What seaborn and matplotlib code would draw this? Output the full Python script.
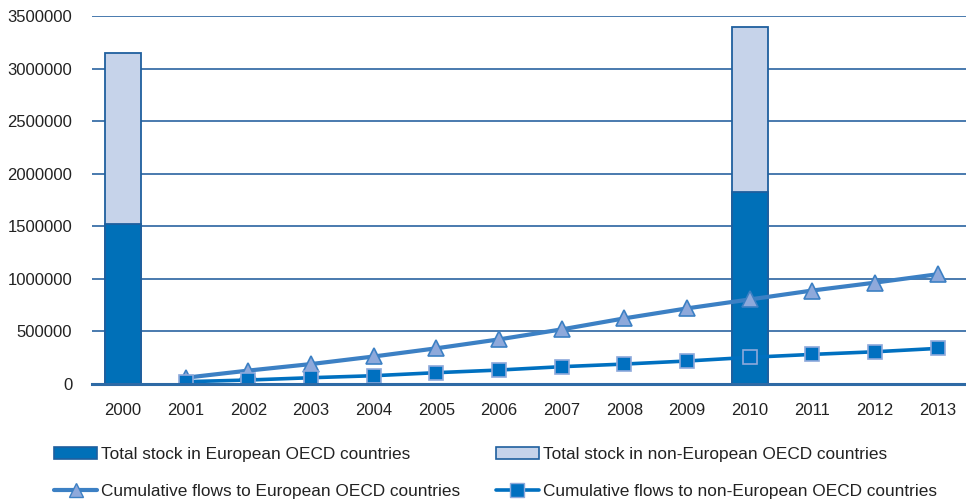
import numpy as np
import pandas as pd
import matplotlib
matplotlib.use("Agg")
import matplotlib.pyplot as plt
from matplotlib.patches import Patch
from matplotlib.lines import Line2D
import seaborn as sns

# --- data -------------------------------------------------------------
years = [str(y) for y in range(2000, 2014)]

stock_years = ["2000", "2010"]
stock_european = [1522000, 1826000]
stock_non_european = [1626000, 1569000]

flow_years = [str(y) for y in range(2001, 2014)]
flows_european = [60000, 128000, 190000, 262000, 340000, 425000, 520000,
                  625000, 720000, 805000, 890000, 965000, 1045000]
flows_non_european = [22000, 38000, 60000, 79000, 108000, 133000, 165000,
                      190000, 219000, 254000, 282000, 307000, 339000]

y_ticks = [0, 500000, 1000000, 1500000, 2000000, 2500000, 3000000, 3500000]

labels = ["Total stock in European OECD countries",
          "Total stock in non-European OECD countries",
          "Cumulative flows to European OECD countries",
          "Cumulative flows to non-European OECD countries"]

# --- styling ----------------------------------------------------------
dark_blue = "#0070B8"
light_blue = "#C6D3EA"
bar_edge = "#1F5F9E"
tri_line = "#3C80C4"
tri_fill = "#8EA9DB"
sq_line = "#0070C0"
grid_col = "#3A70A8"

sns.set_theme(style="white")
plt.rcParams["font.family"] = ["Liberation Sans", "DejaVu Sans"]

stock = pd.DataFrame({
    "year": stock_years,
    "european": stock_european,
    "total": np.array(stock_european) + np.array(stock_non_european),
})
flows = pd.DataFrame({
    "year": flow_years,
    "european": flows_european,
    "non_european": flows_non_european,
})

fig = plt.figure(figsize=(9.66, 5.01), dpi=100)
ax = fig.add_axes([0.095, 0.2335, 0.905, 0.734])

# stacked bars: full total in light blue, European share on top of it
sns.barplot(data=stock, x="year", y="total", order=years, color=light_blue,
            saturation=1, width=0.575, edgecolor=bar_edge, linewidth=1.3,
            ax=ax, zorder=2)
sns.barplot(data=stock, x="year", y="european", order=years, color=dark_blue,
            saturation=1, width=0.575, edgecolor=bar_edge, linewidth=1.3,
            ax=ax, zorder=3)

# cumulative flow lines
sns.pointplot(data=flows, x="year", y="european", order=years,
              color=tri_line, markers="^", linestyles="-", errorbar=None,
              ax=ax, zorder=4, linewidth=3.0, markersize=11,
              markerfacecolor=tri_fill, markeredgecolor=tri_line,
              markeredgewidth=1.2)
sns.pointplot(data=flows, x="year", y="non_european", order=years,
              color=sq_line, markers="s", linestyles="-", errorbar=None,
              ax=ax, zorder=5, linewidth=2.6, markersize=10.5,
              markerfacecolor=sq_line, markeredgecolor=tri_fill,
              markeredgewidth=1.2)

# axes
ax.set_ylim(0, 3500000)
ax.set_xlim(-0.5, 13.45)
ax.set_yticks(y_ticks)
ax.set_yticklabels([str(v) for v in y_ticks])
ax.set_xticks(range(len(years)))
ax.set_xticklabels(years)
ax.set_xlabel("")
ax.set_ylabel("")
for s in ["left", "right", "top"]:
    ax.spines[s].set_visible(False)
ax.spines["bottom"].set_color("#2E6AA5")
ax.spines["bottom"].set_linewidth(2.2)
ax.spines["bottom"].set_zorder(6)
ax.yaxis.grid(True, color=grid_col, linewidth=1.3)
ax.xaxis.grid(False)
ax.set_axisbelow(True)
ax.tick_params(axis="y", length=0, pad=14, labelsize=12, labelcolor="#222222")
ax.tick_params(axis="x", length=0, pad=14, labelsize=12, labelcolor="#222222")

# legend: two rows, stocks on top, flows below
handles = [
    Patch(facecolor=dark_blue, edgecolor=bar_edge, linewidth=1.2),
    Patch(facecolor=light_blue, edgecolor=bar_edge, linewidth=1.2),
    Line2D([], [], color=tri_line, linewidth=3.0, marker="^", markersize=10,
           markerfacecolor=tri_fill, markeredgecolor=tri_line),
    Line2D([], [], color=sq_line, linewidth=2.6, marker="s", markersize=9.5,
           markerfacecolor=sq_line, markeredgecolor=tri_fill),
]
order = [0, 2, 1, 3]  # legend fills column-wise
fig.legend([handles[i] for i in order], [labels[i] for i in order],
           ncol=2, loc="upper left",
           bbox_to_anchor=(0.056, 0.108), frameon=False, fontsize=12.4,
           handlelength=2.5, handletextpad=0.25, columnspacing=2.05,
           labelspacing=1.25, borderaxespad=0, borderpad=0,
           labelcolor="#222222")

fig.savefig("out.png", dpi=100)
